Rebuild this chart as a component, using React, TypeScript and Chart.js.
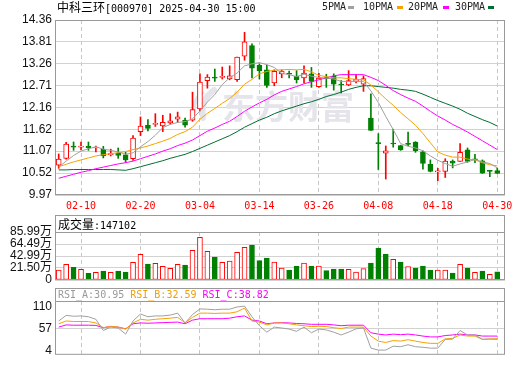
import React, { useEffect, useRef } from 'react';
import { Chart, registerables } from 'chart.js';

Chart.register(...registerables);

const dates = [
  '02-05', '02-06', '02-07', '02-10', '02-11', '02-12', '02-13', '02-14', '02-17', '02-18',
  '02-19', '02-20', '02-21', '02-24', '02-25', '02-26', '02-27', '02-28', '03-03', '03-04',
  '03-05', '03-06', '03-07', '03-10', '03-11', '03-12', '03-13', '03-14', '03-17', '03-18',
  '03-19', '03-20', '03-21', '03-24', '03-25', '03-26', '03-27', '03-28', '03-31', '04-01',
  '04-02', '04-03', '04-07', '04-08', '04-09', '04-10', '04-11', '04-14', '04-15', '04-16',
  '04-17', '04-18', '04-21', '04-22', '04-23', '04-24', '04-25', '04-28', '04-29', '04-30',
];

const opens = [
  10.72, 10.89, 11.19, 11.17, 11.2, 11.15, 11.12, 10.98, 11.02, 10.98,
  10.88, 11.56, 11.72, 11.74, 11.7, 11.78, 11.87, 11.85, 11.85, 12.13,
  12.84, 12.91, 12.92, 12.88, 12.86, 13.45, 13.72, 13.22, 13.11, 12.78,
  13.01, 13.01, 12.95, 12.91, 13.01, 12.69, 12.91, 12.95, 12.75, 12.73,
  12.82, 12.75, 11.9, 11.28, 11.02, 11.26, 11.21, 11.25, 11.3, 11.05,
  10.74, 10.55, 10.56, 10.82, 10.81, 11.1, 10.87, 10.83, 10.59, 10.58,
];
const highs = [
  11.0, 11.29, 11.3, 11.3, 11.3, 11.2, 11.19, 11.12, 11.15, 11.04,
  11.46, 11.93, 11.86, 12.01, 11.97, 12.01, 12.05, 11.9, 12.55, 13.01,
  12.99, 13.13, 13.18, 13.21, 13.43, 14.05, 13.76, 13.26, 13.23, 13.11,
  13.11, 13.08, 13.09, 13.21, 13.17, 13.02, 13.0, 13.01, 12.84, 13.09,
  12.99, 12.96, 12.51, 11.51, 11.2, 11.62, 11.22, 11.55, 11.31, 11.08,
  10.85, 10.64, 10.88, 10.85, 11.26, 11.15, 10.99, 10.85, 10.59, 10.64,
];
const lows = [
  10.64, 10.87, 11.09, 11.1, 11.09, 11.05, 10.9, 10.95, 10.89, 10.79,
  10.84, 11.46, 11.58, 11.69, 11.56, 11.75, 11.79, 11.67, 11.82, 12.08,
  12.65, 12.82, 12.88, 12.86, 12.82, 13.35, 12.91, 12.88, 12.67, 12.71,
  12.91, 12.91, 12.78, 12.78, 12.67, 12.67, 12.67, 12.6, 12.53, 12.71,
  12.78, 12.57, 11.59, 10.61, 10.37, 11.17, 11.09, 11.21, 11.04, 10.62,
  10.55, 10.33, 10.41, 10.65, 10.81, 10.79, 10.78, 10.51, 10.43, 10.51,
];
const closes = [
  10.87, 11.25, 11.17, 11.19, 11.15, 11.16, 10.95, 11.01, 10.96, 10.85,
  11.4, 11.7, 11.64, 11.76, 11.79, 11.83, 11.93, 11.72, 12.11, 12.8,
  12.93, 12.9, 12.94, 12.96, 13.43, 13.81, 13.15, 13.08, 12.72, 13.07,
  13.08, 13.0, 12.86, 13.03, 12.82, 12.9, 12.89, 12.75, 12.73, 12.84,
  12.88, 12.89, 11.59, 11.26, 11.08, 11.25, 11.1, 11.24, 11.08, 10.76,
  10.56, 10.57, 10.82, 10.77, 11.04, 10.81, 10.85, 10.52, 10.56, 10.51,
];

const ma5 = [
  10.67, 10.82, 10.96, 11.07, 11.13, 11.18, 11.12, 11.09, 11.05, 10.99,
  11.03, 11.18, 11.31, 11.47, 11.66, 11.74, 11.79, 11.81, 11.88, 12.08,
  12.3, 12.49, 12.74, 12.91, 13.03, 13.21, 13.26, 13.29, 13.24, 13.17,
  13.02, 12.99, 12.94, 13.0, 12.95, 12.92, 12.9, 12.88, 12.82, 12.82,
  12.82, 12.82, 12.58, 12.29, 11.94, 11.61, 11.26, 11.19, 11.15, 11.08,
  10.95, 10.84, 10.76, 10.69, 10.75, 10.8, 10.86, 10.8, 10.76, 10.65,
];
const ma10 = [
  10.68, 10.74, 10.8, 10.85, 10.9, 10.95, 10.98, 11.01, 11.03, 11.06,
  11.11, 11.15, 11.2, 11.26, 11.32, 11.39, 11.49, 11.56, 11.67, 11.87,
  12.02, 12.14, 12.27, 12.39, 12.55, 12.75, 12.87, 13.01, 13.07, 13.1,
  13.11, 13.12, 13.11, 13.12, 13.06, 12.97, 12.94, 12.91, 12.91, 12.89,
  12.87, 12.86, 12.73, 12.56, 12.38, 12.22, 12.04, 11.88, 11.72, 11.51,
  11.28, 11.05, 10.97, 10.92, 10.92, 10.87, 10.85, 10.78, 10.73, 10.7,
];
const ma20 = [
  10.39, 10.44, 10.49, 10.54, 10.58, 10.63, 10.67, 10.71, 10.75, 10.78,
  10.82, 10.88, 10.94, 11.0, 11.07, 11.13, 11.21, 11.27, 11.35, 11.46,
  11.57, 11.65, 11.74, 11.82, 11.94, 12.07, 12.18, 12.28, 12.37, 12.48,
  12.57, 12.63, 12.69, 12.76, 12.81, 12.86, 12.91, 12.96, 12.99, 12.99,
  12.99, 12.99, 12.92, 12.84, 12.72, 12.59, 12.49, 12.4, 12.32, 12.2,
  12.07, 11.95, 11.85, 11.74, 11.65, 11.55, 11.44, 11.33, 11.22, 11.11,
];
const ma30 = [
  10.6, 10.6, 10.61, 10.61, 10.61, 10.61, 10.61, 10.61, 10.6, 10.59,
  10.63, 10.68, 10.73, 10.78, 10.83, 10.89, 10.94, 10.99, 11.06, 11.14,
  11.22, 11.3, 11.38, 11.46, 11.56, 11.67, 11.76, 11.85, 11.92, 12.01,
  12.08, 12.14, 12.2, 12.26, 12.31, 12.37, 12.44, 12.49, 12.55, 12.62,
  12.67, 12.71, 12.71, 12.69, 12.67, 12.65, 12.62, 12.6, 12.57, 12.5,
  12.42, 12.34, 12.27, 12.2, 12.12, 12.02, 11.94, 11.86, 11.79, 11.7,
];

// volume in 万 (10k)
const volumes = [
  17.9, 28.1, 22.7, 19.1, 11.9, 13.7, 16.1, 13.7, 16.1, 14.3,
  31.7, 46.0, 28.7, 29.9, 24.5, 20.9, 28.1, 26.9, 53.2, 76.4,
  51.4, 41.2, 31.7, 34.0, 49.6, 58.5, 62.7, 34.6, 39.4, 32.2,
  21.5, 17.9, 25.1, 30.5, 25.1, 25.1, 16.7, 19.7, 19.7, 19.1,
  14.3, 20.3, 30.5, 57.3, 46.6, 37.0, 32.2, 23.9, 21.5, 25.1,
  17.9, 17.9, 17.9, 12.5, 28.1, 21.5, 13.7, 16.1, 10.2, 14.71,
];

const rsiA = [
  75.1, 88.5, 86.5, 87.2, 85.2, 79.1, 52.3, 60.4, 58.3, 43.6,
  75.1, 91.9, 85.2, 87.2, 87.2, 89.2, 93.9, 70.4, 90.5, 104.0,
  103.3, 102.0, 103.3, 103.3, 108.7, 110.7, 85.2, 63.7, 48.3, 60.4,
  58.3, 55.7, 50.3, 60.4, 46.9, 55.7, 53.6, 48.3, 41.6, 48.3,
  56.3, 58.3, 10.0, 5.3, 5.3, 14.7, 13.4, 18.1, 13.4, 12.1,
  10.0, 10.0, 30.8, 31.5, 52.3, 41.6, 41.6, 31.5, 31.5, 30.95,
];
const rsiB = [
  68.4, 75.1, 73.8, 73.8, 73.8, 70.4, 59.0, 62.4, 60.4, 55.7,
  70.4, 79.1, 77.1, 79.1, 80.5, 81.8, 83.8, 70.4, 83.8, 93.9,
  93.9, 93.2, 93.9, 93.9, 97.2, 106.0, 75.1, 72.4, 65.7, 70.4,
  70.4, 68.4, 65.7, 63.7, 61.7, 62.4, 61.7, 59.0, 57.0, 60.4,
  60.4, 60.4, 38.9, 26.8, 23.5, 28.2, 26.8, 30.2, 26.8, 23.5,
  21.4, 21.4, 32.2, 33.5, 41.6, 38.9, 38.9, 30.8, 32.2, 32.59,
];
const rsiC = [
  60.4, 65.7, 65.0, 65.0, 65.0, 64.4, 59.0, 61.7, 60.4, 56.3,
  68.4, 70.4, 69.7, 70.4, 71.1, 71.8, 72.4, 68.4, 77.1, 80.5,
  80.5, 80.5, 80.5, 81.8, 85.2, 87.2, 77.1, 75.1, 68.4, 70.4,
  71.1, 70.4, 69.1, 68.4, 67.1, 67.1, 67.1, 65.7, 63.7, 65.0,
  65.0, 65.0, 46.9, 43.6, 41.6, 43.6, 42.2, 43.6, 41.6, 38.9,
  36.9, 36.9, 40.2, 41.6, 43.6, 41.6, 41.6, 38.9, 38.9, 38.82,
];

const priceTicks = [9.97, 10.52, 11.07, 11.62, 12.16, 12.71, 13.26, 13.81, 14.36];
const volumeTicks = [0, 21.5, 42.99, 64.49, 85.99];
const rsiTicks = [4, 57, 110];
const dateTickIdx = [3, 11, 19, 27, 35, 43, 51, 59];

const RED = '#ff0000';
const GREEN = '#008000';
const MA5C = '#a0a0a0';
const MA10C = '#f5a300';
const MA20C = '#ff00ff';
const MA30C = '#006e32';
const FRAME = '#999999';
const GRID = '#d2d2d2';
const VGRID = '#c8c8c8';
const MONO = "'DejaVu Sans Mono', 'Liberation Mono', monospace";
const CJK = "'Noto Sans CJK SC', sans-serif";
const AXISFONT = "'Liberation Sans', 'Noto Sans CJK SC', sans-serif";

const X_MIN = -0.5;
const X_MAX = 60.04;

const candleUp = (i: number) => closes[i] >= opens[i];
const volUp = (i: number) => (i === 0 ? closes[0] >= opens[0] : closes[i] >= closes[i - 1]);

const framePlugin = {
  id: 'frame',
  afterDraw(chart: any) {
    const { ctx, chartArea: a } = chart;
    ctx.save();
    ctx.strokeStyle = FRAME;
    ctx.lineWidth = 1;
    ctx.strokeRect(a.left + 0.5, a.top + 0.5, a.right - a.left - 1, a.bottom - a.top - 1);
    ctx.restore();
  },
};

const watermarkPlugin = {
  id: 'watermark',
  beforeDatasetsDraw(chart: any) {
    const { ctx } = chart;
    ctx.save();
    ctx.fillStyle = '#e4e4ea';
    ctx.strokeStyle = '#e4e4ea';
    // logo swoosh
    ctx.lineCap = 'round';
    ctx.lineWidth = 6;
    ctx.beginPath();
    ctx.moveTo(203, 118);
    ctx.quadraticCurveTo(200, 100, 214, 90);
    ctx.stroke();
    ctx.lineWidth = 4;
    ctx.beginPath();
    ctx.moveTo(194, 112);
    ctx.quadraticCurveTo(193, 100, 202, 93);
    ctx.stroke();
    ctx.font = "bold 33px 'Noto Sans CJK SC'";
    ctx.textBaseline = 'alphabetic';
    ctx.textAlign = 'left';
    ctx.fillText('东方财富', 222, 119);
    ctx.restore();
  },
};

function xScale(showLabels: boolean, height: number) {
  return {
    type: 'linear',
    min: X_MIN,
    max: X_MAX,
    offset: false,
    afterBuildTicks: (s: any) => {
      s.ticks = dateTickIdx.map((v) => ({ value: v }));
    },
    afterFit: (s: any) => {
      s.height = height;
    },
    grid: { display: true, offset: false, color: VGRID, lineWidth: 1, drawTicks: false },
    border: { display: false, dash: [4, 3] },
    ticks: {
      display: showLabels,
      autoSkip: false,
      maxRotation: 0,
      padding: 5,
      color: RED,
      font: { family: MONO, size: 10 },
      callback: (v: any) => dates[v] ?? '',
    },
  };
}

function yScale(min: number, max: number, ticks: number[], fmt: (v: number) => string, gridColor: any) {
  return {
    type: 'linear',
    position: 'left',
    min,
    max,
    beginAtZero: false,
    afterBuildTicks: (s: any) => {
      s.ticks = ticks.map((v) => ({ value: v }));
    },
    afterFit: (s: any) => {
      s.width = 55;
    },
    grid: { color: gridColor, drawTicks: false, lineWidth: 1 },
    border: { display: false },
    ticks: {
      autoSkip: false,
      padding: 3,
      color: '#111111',
      font: { family: AXISFONT, size: 12 },
      callback: (v: any) => fmt(v),
    },
  };
}

const baseOptions = (padTop: number, padBottom: number) => ({
  responsive: false,
  maintainAspectRatio: false,
  animation: false,
  events: [],
  layout: { padding: { left: 0, right: 15, top: padTop, bottom: padBottom } },
  plugins: { legend: { display: false }, tooltip: { enabled: false }, title: { display: false } },
});

const lineDs = (vals: number[], color: string, order: number) => ({
  type: 'line',
  data: vals.map((v, i) => ({ x: i, y: v })),
  borderColor: color,
  backgroundColor: color,
  borderWidth: 1,
  pointRadius: 0,
  tension: 0,
  order,
});

function mainConfig(): any {
  return {
    type: 'bar',
    data: {
      datasets: [
        lineDs(ma5, MA5C, 0),
        lineDs(ma10, MA10C, 0),
        lineDs(ma20, MA20C, 0),
        lineDs(ma30, MA30C, 0),
        {
          type: 'bar',
          data: opens.map((o, i) => ({ x: i, y: [o, closes[i]] })),
          backgroundColor: (c: any) => (candleUp(c.dataIndex) ? '#ffffff' : GREEN),
          borderColor: (c: any) => (candleUp(c.dataIndex) ? RED : GREEN),
          borderWidth: 1,
          borderSkipped: false,
          barThickness: 5,
          minBarLength: 1,
          grouped: false,
          order: 5,
        },
        {
          type: 'bar',
          data: lows.map((l, i) => ({ x: i, y: [l, highs[i]] })),
          backgroundColor: (c: any) => (candleUp(c.dataIndex) ? RED : GREEN),
          borderWidth: 0,
          barThickness: 1,
          grouped: false,
          order: 6,
        },
      ],
    },
    options: {
      ...baseOptions(20, 152),
      scales: {
        x: xScale(true, 18),
        y: yScale(9.97, 14.36, priceTicks, (v) => v.toFixed(2), GRID),
      },
    },
    plugins: [watermarkPlugin, framePlugin],
  };
}

function volumeConfig(): any {
  return {
    type: 'bar',
    data: {
      datasets: [
        {
          type: 'bar',
          data: volumes.map((v, i) => ({ x: i, y: v })),
          backgroundColor: (c: any) => (volUp(c.dataIndex) ? '#ffffff' : GREEN),
          borderColor: (c: any) => (volUp(c.dataIndex) ? RED : GREEN),
          borderWidth: 1,
          borderSkipped: false,
          barThickness: 5,
          grouped: false,
        },
      ],
    },
    options: {
      ...baseOptions(232, 85),
      scales: {
        x: xScale(false, 0),
        y: yScale(0, 85.99, volumeTicks, (v) => (v === 0 ? '0' : v.toFixed(2) + '万'), GRID),
      },
    },
    plugins: [framePlugin],
  };
}

function rsiConfig(): any {
  return {
    type: 'line',
    data: {
      datasets: [
        lineDs(rsiC, MA20C, 2),
        lineDs(rsiB, MA10C, 1),
        lineDs(rsiA, MA5C, 0),
      ],
    },
    options: {
      ...baseOptions(301, 1),
      scales: {
        x: xScale(false, 0),
        y: yScale(-6, 123, rsiTicks, (v) => String(v), (c: any) =>
          c.tick && c.tick.value === 57 ? GRID : 'rgba(0,0,0,0)'),
      },
    },
    plugins: [framePlugin],
  };
}

const abs = (l: number, t: number, extra: any = {}) => ({
  position: 'absolute' as const,
  left: l,
  top: t,
  whiteSpace: 'pre' as const,
  ...extra,
});

export default function App() {
  const mainRef = useRef<HTMLCanvasElement>(null);
  const volRef = useRef<HTMLCanvasElement>(null);
  const rsiRef = useRef<HTMLCanvasElement>(null);

  useEffect(() => {
    const c1 = new Chart(mainRef.current as HTMLCanvasElement, mainConfig());
    const c2 = new Chart(volRef.current as HTMLCanvasElement, volumeConfig());
    const c3 = new Chart(rsiRef.current as HTMLCanvasElement, rsiConfig());
    return () => {
      c1.destroy();
      c2.destroy();
      c3.destroy();
    };
  }, []);

  const canvasStyle = { position: 'absolute' as const, left: 0, top: 0, width: 520, height: 365 };
  const mono = { fontFamily: MONO, fontSize: 10, lineHeight: '14px' };
  const cjk = { fontFamily: CJK, fontSize: 12 };
  const marker = (l: number, color: string) => (
    <span style={{ position: 'absolute', left: l, top: 6, width: 6, height: 3, background: color }} />
  );

  return (
    <div
      style={{
        position: 'absolute',
        left: 0,
        top: 0,
        width: 520,
        height: 365,
        background: '#ffffff',
        overflow: 'hidden',
      }}
    >
      <canvas ref={mainRef} width={520} height={365} style={canvasStyle} />
      <canvas ref={volRef} width={520} height={365} style={canvasStyle} />
      <canvas ref={rsiRef} width={520} height={365} style={canvasStyle} />

      {/* title */}
      <div style={abs(57, 0, { ...mono, color: '#000' })}>
        <span style={cjk}>中科三环</span>[000970] 2025-04-30 15:00
      </div>

      {/* legend */}
      <div style={abs(322, 0, { ...mono, color: '#222' })}>5PMA</div>
      {marker(348, MA5C)}
      <div style={abs(363, 0, { ...mono, color: '#222' })}>10PMA</div>
      {marker(397, MA10C)}
      <div style={abs(408, 0, { ...mono, color: '#222' })}>20PMA</div>
      {marker(443, MA20C)}
      <div style={abs(455, 0, { ...mono, color: '#222' })}>30PMA</div>
      {marker(488, MA30C)}

      {/* volume header */}
      <div
        style={abs(55, 215, {
          width: 450,
          height: 18,
          boxSizing: 'border-box',
          border: `1px solid ${FRAME}`,
        })}
      />
      <div style={abs(58, 217, { ...mono, color: '#000' })}>
        <span style={cjk}>成交量</span>:147102
      </div>

      {/* RSI header */}
      <div
        style={abs(55, 288, {
          width: 450,
          height: 14,
          boxSizing: 'border-box',
          border: `1px solid ${FRAME}`,
        })}
      />
      <div style={abs(58, 288, { ...mono })}>
        <span style={{ color: '#999999' }}>RSI_A:30.95</span>{' '}
        <span style={{ color: '#f0a000' }}>RSI_B:32.59</span>{' '}
        <span style={{ color: '#ff00ff' }}>RSI_C:38.82</span>
      </div>
    </div>
  );
}
